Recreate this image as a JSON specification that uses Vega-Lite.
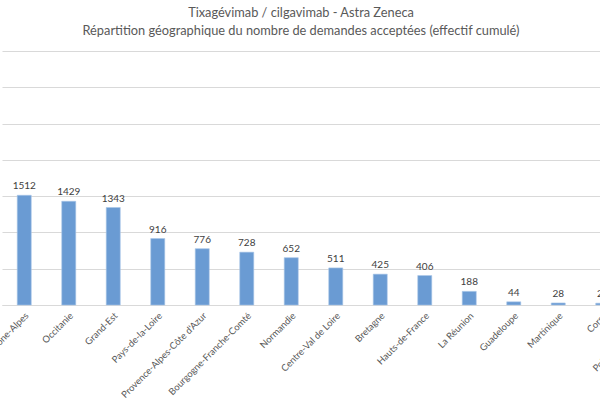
{
  "$schema": "https://vega.github.io/schema/vega-lite/v6.json",
  "autosize": "none",
  "width": 598,
  "height": 254,
  "padding": {"left": 2, "top": 51, "right": 0, "bottom": 93},
  "background": "white",
  "config": {
    "view": {"stroke": null},
    "font": "Lato",
    "axis": {"labelLimit": 400}
  },
  "title": {
    "text": ["Tixagévimab / cilgavimab - Astra Zeneca", "Répartition géographique du nombre de demandes acceptées  (effectif cumulé)"],
    "fontSize": 12.8,
    "fontWeight": "normal",
    "font": "Lato",
    "color": "#595959",
    "lineHeight": 18,
    "offset": 13,
    "anchor": "middle",
    "frame": "group"
  },
  "data": {
    "values": [
      {"region": "Auvergne-Rhône-Alpes", "n": 1512},
      {"region": "Occitanie", "n": 1429},
      {"region": "Grand-Est", "n": 1343},
      {"region": "Pays-de-la-Loire", "n": 916},
      {"region": "Provence-Alpes-Côte d'Azur", "n": 776},
      {"region": "Bourgogne-Franche-Comté", "n": 728},
      {"region": "Normandie", "n": 652},
      {"region": "Centre-Val de Loire", "n": 511},
      {"region": "Bretagne", "n": 425},
      {"region": "Hauts-de-France", "n": 406},
      {"region": "La Réunion", "n": 188},
      {"region": "Guadeloupe", "n": 44},
      {"region": "Martinique", "n": 28},
      {"region": "Corse", "n": 25},
      {"region": "Polynésie française", "n": 15}
    ]
  },
  "encoding": {
    "x": {
      "field": "region",
      "type": "nominal",
      "sort": null,
      "scale": {"range": [0, 667.5], "paddingInner": 0.685, "paddingOuter": 0.3425},
      "axis": {
        "title": null,
        "labelAngle": -45,
        "labelFontSize": 9.4,
        "labelFont": "Lato",
        "labelColor": "#595959",
        "ticks": false,
        "domainColor": "#d9d9d9",
        "labelPadding": 6,
        "labelOverlap": false,
        "labelLimit": 400,
        "labelBound": false
      }
    },
    "y": {
      "field": "n",
      "type": "quantitative",
      "scale": {"domain": [0, 3500]},
      "axis": {
        "title": null,
        "labels": false,
        "ticks": false,
        "domain": false,
        "values": [0, 500, 1000, 1500, 2000, 2500, 3000, 3500],
        "gridColor": "#d9d9d9"
      }
    }
  },
  "layer": [
    {"mark": {"type": "bar", "color": "#6a9bd3", "stroke": "#a9c6e8", "strokeWidth": 0.6}},
    {"mark": {"type": "text", "dy": -9, "fontSize": 10, "font": "Lato", "color": "#404040"}, "encoding": {"text": {"field": "n", "type": "quantitative"}}}
  ]
}
